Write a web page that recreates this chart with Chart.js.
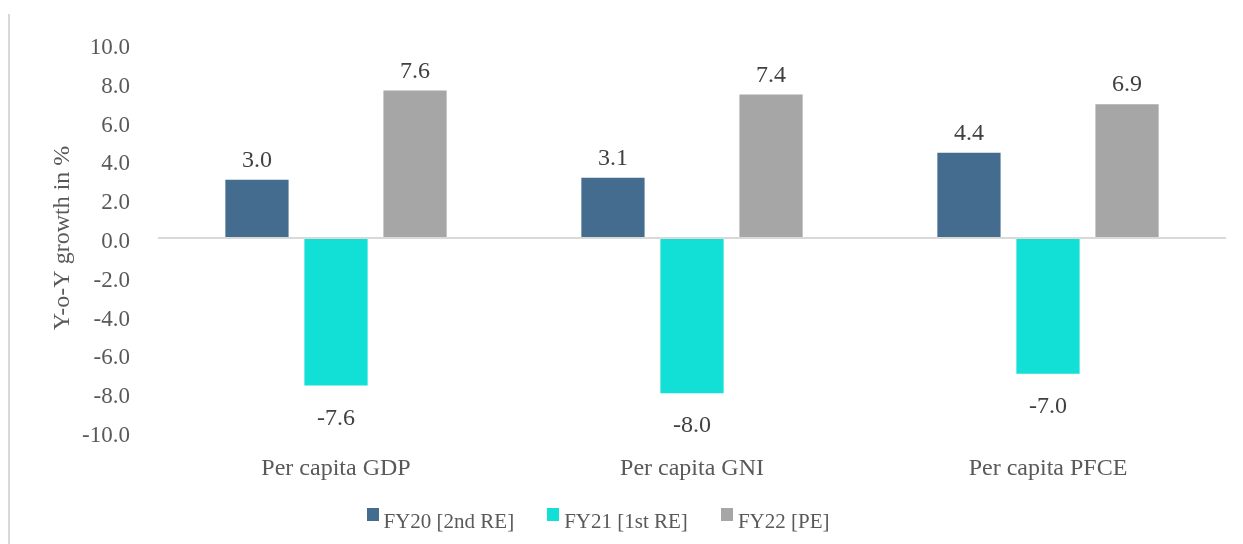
<!DOCTYPE html>
<html>
<head>
<meta charset="utf-8">
<script src="https://cdn.jsdelivr.net/npm/chart.js@4.4.0/dist/chart.umd.min.js"></script>
<style>
  html, body { margin: 0; padding: 0; background: #ffffff; }
  #wrap { position: relative; width: 1243px; height: 544px; overflow: hidden; }
  #frame { position: absolute; left: 8px; top: 14px; bottom: 0; width: 2px; background: #d9d9d9; }
  #legend {
    position: absolute; left: 0; top: 509px; width: 1196px;
    display: flex; justify-content: center; gap: 33px;
    font-family: "Liberation Serif", "Times New Roman", serif;
    font-size: 21px; line-height: 24px; color: #595959;
  }
  .item { display: flex; align-items: flex-start; }
  .box { width: 12px; height: 13px; margin-top: -1px; margin-right: 5px; }
</style>
</head>
<body>
<div id="wrap">
  <canvas id="chartPlaceholder" width="1243" height="544"></canvas>
  <div id="frame"></div>
  <div id="legend"></div>
</div>
<script>
const CATEGORIES = ["Per capita GDP", "Per capita GNI", "Per capita PFCE"];
const SERIES_NAMES = ["FY20 [2nd RE]", "FY21 [1st RE]", "FY22 [PE]"];
const FY20 = [3.0, 3.1, 4.4];
const FY21 = [-7.6, -8.0, -7.0];
const FY22 = [7.6, 7.4, 6.9];
const COLORS = ["#436c8e", "#12dfd5", "#a6a6a6"];

const FONT = "'Liberation Serif', 'Times New Roman', serif";

// draws the value above (or below) each bar
const barValueLabels = {
  id: "barValueLabels",
  afterDatasetsDraw(chart) {
    const ctx = chart.ctx;
    ctx.save();
    ctx.font = "24px " + FONT;
    ctx.fillStyle = "#404040";
    ctx.textAlign = "center";
    ctx.textBaseline = "middle";
    chart.data.datasets.forEach((ds, i) => {
      chart.getDatasetMeta(i).data.forEach((bar, j) => {
        const v = ds.data[j];
        const y = v >= 0 ? bar.y - 19 : bar.y + 33;
        ctx.fillText(v.toFixed(1), bar.x, y);
      });
    });
    ctx.restore();
  },
};

function buildLegend(datasets) {
  const legend = document.getElementById("legend");
  datasets.forEach((ds) => {
    const item = document.createElement("div");
    item.className = "item";
    const box = document.createElement("span");
    box.className = "box";
    box.style.background = ds.backgroundColor;
    const text = document.createElement("span");
    text.textContent = ds.label;
    item.appendChild(box);
    item.appendChild(text);
    legend.appendChild(item);
  });
}

const datasets = [FY20, FY21, FY22].map((values, i) => ({
  label: SERIES_NAMES[i],
  data: values,
  backgroundColor: COLORS[i],
  categoryPercentage: 0.666,
  barPercentage: 0.8,
}));

const ctx = document.getElementById("chartPlaceholder").getContext("2d");
new Chart(ctx, {
  type: "bar",
  data: { labels: CATEGORIES, datasets: datasets },
  options: {
    responsive: false,
    animation: false,
    devicePixelRatio: 1,
    layout: { padding: { left: 0, right: 17, top: 44, bottom: 52 } },
    plugins: {
      legend: { display: false },
      tooltip: { enabled: false },
    },
    scales: {
      x: {
        afterFit(scale) { scale.height = 60; },
        grid: { display: false },
        border: { display: false },
        ticks: {
          color: "#595959",
          font: { family: FONT, size: 24 },
          padding: 14,
        },
      },
      y: {
        min: -10,
        max: 10,
        afterFit(scale) { scale.width = 158; },
        border: { display: false },
        grid: {
          drawTicks: false,
          color: (c) => (c.tick && c.tick.value === 0 ? "#d9d9d9" : "rgba(0,0,0,0)"),
          lineWidth: 2,
        },
        ticks: {
          stepSize: 2,
          color: "#595959",
          font: { family: FONT, size: 23 },
          padding: 28,
          labelOffset: 4,
          callback: (v) => Number(v).toFixed(1),
        },
        title: {
          display: true,
          text: "Y-o-Y growth in %",
          color: "#595959",
          font: { family: FONT, size: 24 },
          padding: { top: 48, bottom: 0 },
        },
      },
    },
  },
  plugins: [barValueLabels],
});

buildLegend(datasets);
</script>
</body>
</html>
